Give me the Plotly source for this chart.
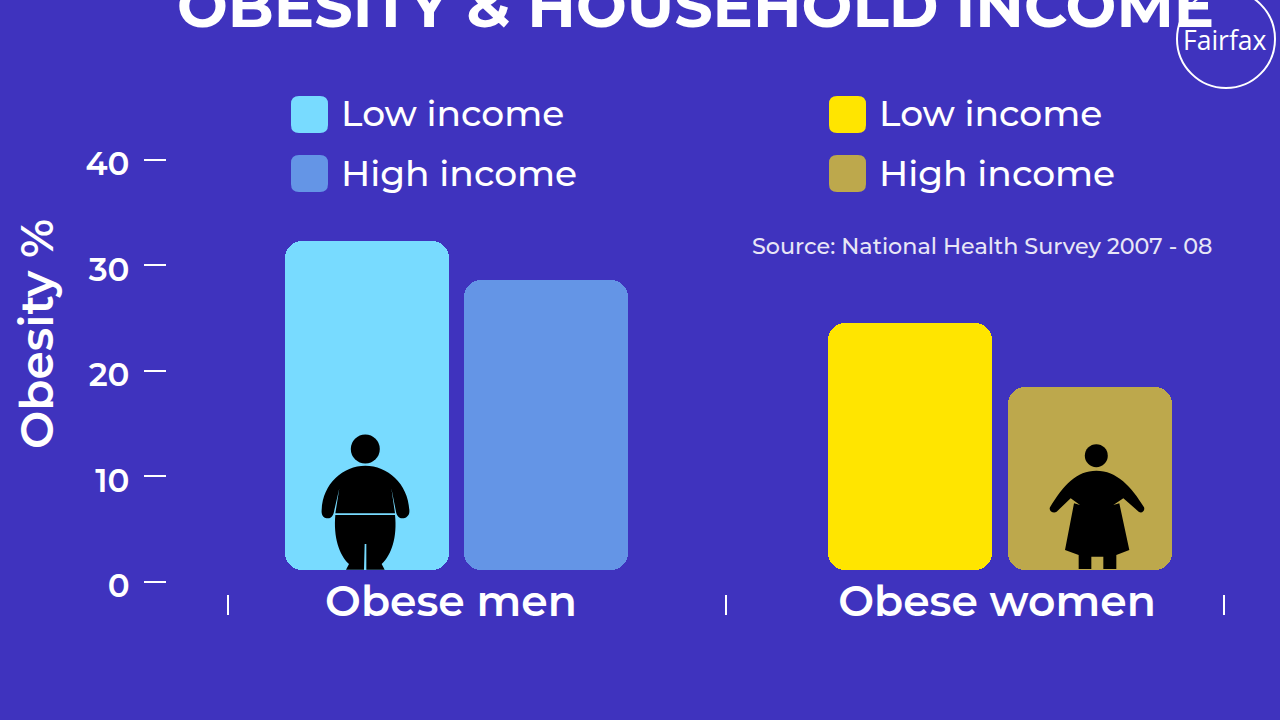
import plotly.graph_objects as go

# ---- data ----
categories = ["Obese men", "Obese women"]
series_names = ["Low income", "High income"]
men_values = [32.3, 28.6]
women_values = [24.5, 18.5]
y_ticks = [0, 10, 20, 30, 40]
y_title = "Obesity %"
title_text = "OBESITY & HOUSEHOLD INCOME"
source_text = "Source: National Health Survey 2007 - 08"
logo_text = "Fairfax"

# ---- styles / layout constants ----
BG = "#3F33BE"
WHITE = "#FFFFFF"
MEN_COL = ["#78DBFF", "#6495E6"]
WOMEN_COL = ["#FFE500", "#BDA84C"]
FONT = "Montserrat, Inter"
W, H = 1280, 720
L, R, T, B = 167, 1230, 160, 615          # plot box in px
U_Y = (581.5 - 160) / 40                   # px per y unit
U_X = 498.0                                # px per x unit
X_ORIGIN = 228.0
BAR_BASE = (581.5 - 570) / U_Y
BAR_W = 164 / U_X
RADIUS = 17
MEN_X = [(367 - X_ORIGIN) / U_X, (546 - X_ORIGIN) / U_X]
WOMEN_X = [(910 - X_ORIGIN) / U_X, (1090 - X_ORIGIN) / U_X]
LABEL_X = [(451 - X_ORIGIN) / U_X, (997 - X_ORIGIN) / U_X]


def px(x):
    return (x - L) / (R - L)


def py(y):
    return (B - y) / (B - T)


def path(cmds):
    out = []
    for c, pts in cmds:
        if c == "Z":
            out.append("Z")
            continue
        vals = []
        for i in range(0, len(pts), 2):
            vals.append(f"{px(pts[i]):.5f},{py(pts[i + 1]):.5f}")
        out.append(c + " ".join(vals))
    return " ".join(out)


def zoomed(cmds, ox, oy):
    res = []
    for c, pts in cmds:
        q = []
        for i in range(0, len(pts), 2):
            q += [pts[i] / 3 + ox, pts[i + 1] / 3 + oy]
        res.append((c, q))
    return res


def blob(d, fill=WHITE):
    return dict(type="path", xref="paper", yref="paper", path=d, fillcolor=fill,
                line=dict(color=fill, width=0), layer="above")


def rrect(x0, y0, x1, y1, r):
    return path([("M", [x0 + r, y0]), ("L", [x1 - r, y0]), ("Q", [x1, y0, x1, y0 + r]),
                 ("L", [x1, y1 - r]), ("Q", [x1, y1, x1 - r, y1]), ("L", [x0 + r, y1]),
                 ("Q", [x0, y1, x0, y1 - r]), ("L", [x0, y0 + r]), ("Q", [x0, y0, x0 + r, y0]), ("Z", [])])


def circle(cx, cy, r, **kw):
    return dict(type="circle", xref="paper", yref="paper",
                x0=px(cx - r), x1=px(cx + r), y0=py(cy + r), y1=py(cy - r), **kw)


fig = go.Figure()
for xs, vals, cols, cat in [(MEN_X, men_values, MEN_COL, categories[0]),
                            (WOMEN_X, women_values, WOMEN_COL, categories[1])]:
    for x, v, c, name in zip(xs, vals, cols, series_names):
        fig.add_bar(x=[x], y=[v - BAR_BASE], base=[BAR_BASE], width=BAR_W,
                    marker=dict(color=c, line=dict(width=0)), name=f"{cat} - {name}", showlegend=False)

shapes = []
for x0, cols in [(291, MEN_COL), (829, WOMEN_COL)]:
    for (y0, y1), c in zip([(96, 133), (155, 192)], cols):
        shapes.append(blob(rrect(x0, y0, x0 + 37, y1, 8), fill=c))

BLACK = "#000000"
shapes.append(circle(365.3, 449, 14.5, fillcolor=BLACK, line=dict(width=0), layer="above"))
man_upper = [("M", [125, 270]), ("C", [128, 190, 190, 137, 256, 137]), ("C", [322, 137, 384, 190, 388, 270]),
             ("C", [390, 287, 378, 295, 367, 295]), ("C", [355, 295, 349, 285, 347, 270]), ("L", [334, 205]),
             ("L", [345, 280]), ("L", [166, 280]), ("L", [178, 205]), ("L", [163, 270]),
             ("C", [161, 285, 155, 295, 144, 295]), ("C", [132, 295, 123, 287, 125, 270]), ("Z", [])]
man_lower = [("M", [166, 285]), ("L", [345, 285]), ("C", [352, 350, 335, 405, 305, 432]), ("L", [314, 449]),
             ("L", [259, 449]), ("L", [259, 372]), ("L", [254, 372]), ("L", [252, 449]), ("L", [198, 449]),
             ("L", [207, 432]), ("C", [177, 405, 160, 350, 166, 285]), ("Z", [])]
shapes.append(blob(path(zoomed(man_upper, 280, 420)), fill=BLACK))
shapes.append(blob(path(zoomed(man_lower, 280, 420)), fill=BLACK))

shapes.append(circle(1096.3, 455.7, 11.5, fillcolor=BLACK, line=dict(width=0), layer="above"))
woman = [("M", [150, 262]), ("C", [190, 195, 230, 152, 289, 152]), ("C", [350, 152, 395, 200, 432, 262]),
         ("C", [436, 272, 425, 282, 416, 275]), ("L", [370, 235]), ("L", [340, 255]),
         ("L", [358, 250]), ("L", [388, 390]), ("L", [349, 405]), ("L", [349, 447]), ("L", [310, 447]),
         ("L", [310, 410]), ("L", [274, 410]), ("L", [274, 447]), ("L", [236, 447]), ("L", [236, 405]),
         ("L", [195, 390]), ("L", [222, 250]), ("L", [240, 255]), ("L", [212, 235]),
         ("L", [170, 275]), ("C", [160, 282, 145, 272, 150, 262]), ("Z", [])]
shapes.append(blob(path(zoomed(woman, 1000, 420)), fill=BLACK))

shapes.append(circle(1226, 39, 49, fillcolor="rgba(0,0,0,0)", line=dict(color=WHITE, width=2), layer="above"))


def note(text, x, y, size, weight=500, color=WHITE, anchor="left", family=FONT, angle=0):
    return dict(text=text, xref="paper", yref="paper", x=px(x), y=py(y), xanchor=anchor, yanchor="middle",
                showarrow=False, textangle=angle, font=dict(family=family, size=size, color=color, weight=weight))


annotations = [
    note(title_text, 695.5, 5, 60.2, weight=700, anchor="center"),
    note(logo_text, 1225, 40, 26.5, weight=500, anchor="center", family="Open Sans"),
    note(series_names[0], 339, 113, 36),
    note(series_names[1], 339, 173, 36),
    note(series_names[0], 877, 113, 36),
    note(series_names[1], 877, 173, 36),
    note(source_text, 750, 246, 22.3, weight=500, color="#E8E6F6"),
    note(y_title, 36, 334, 45.5, weight=600, anchor="center", angle=-90),
]

fig.update_layout(
    width=W, height=H, autosize=False,
    margin=dict(l=L, r=W - R, t=T, b=H - B, pad=0),
    paper_bgcolor=BG, plot_bgcolor=BG,
    barmode="overlay", barcornerradius=RADIUS, bargap=0,
    showlegend=False, shapes=shapes, annotations=annotations,
    font=dict(family=FONT, color=WHITE),
    xaxis=dict(range=[(L - X_ORIGIN) / U_X, (R - X_ORIGIN) / U_X], showgrid=False, zeroline=False, showline=False,
               tickmode="array", tickvals=LABEL_X, ticktext=categories, ticks="",
               ticklabelstandoff=-43, fixedrange=True,
               tickfont=dict(size=42.5, color=WHITE, family=FONT, weight=600),
               minor=dict(tickmode="array", tickvals=[0, 1, 2], ticks="inside", ticklen=20,
                          tickwidth=2, tickcolor=WHITE, showgrid=False)),
    yaxis=dict(range=[(581.5 - B) / U_Y, 40], showgrid=False, zeroline=False, showline=False,
               tickmode="array", tickvals=y_ticks, ticks="outside", ticklen=22, tickwidth=2, tickcolor=WHITE,
               ticklabelstandoff=8, ticklabelshift=4, fixedrange=True,
               tickfont=dict(size=32.5, color=WHITE, family=FONT, weight=600)),
)
fig.write_html("out.html", config={"displayModeBar": False},
               post_script="document.body.style.margin='0';document.body.style.overflow='hidden';"
                           "document.documentElement.style.background='" + BG + "';")
